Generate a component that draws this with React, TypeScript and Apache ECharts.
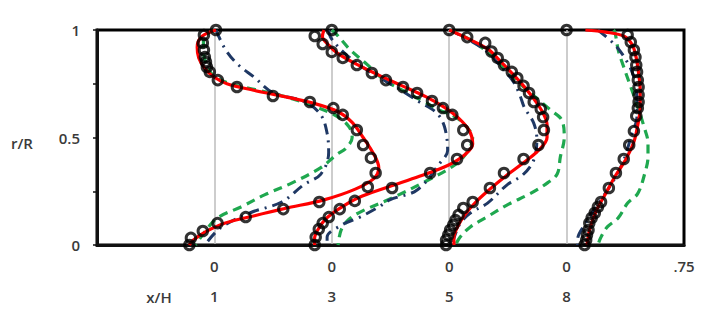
import { useEffect, useRef } from "react";
import * as echarts from "echarts";

// Stations (x/H) and their zero offsets on the shared horizontal axis
const stationLabels = ["1", "3", "5", "8"];
const stationOffsets = [0.75, 1.5, 2.25, 3.0];
const xTickLabels = ["", "0", "0", "0", "0", ".75"];
const yTickLabels: Record<string, string> = { "0": "0", "0.5": "0.5", "1": "1" };

// Each pair: [r/R, u] with u the profile value at that station
const exp1 = [[1.0,0.01],[0.977,-0.067],[0.94,-0.074],[0.907,-0.067],[0.874,-0.061],[0.851,-0.054],[0.828,-0.048],[0.805,-0.029],[0.767,0.022],[0.735,0.144],[0.693,0.374],[0.665,0.61],[0.637,0.76],[0.605,0.82],[0.535,0.91],[0.465,0.95],[0.405,1.0],[0.335,1.03],[0.27,0.98],[0.2,0.67],[0.167,0.44],[0.13,0.2],[0.102,0.02],[0.065,-0.074],[0.033,-0.15],[0.0,-0.16]];
const exp3 = [[1.0,0.0],[0.972,-0.109],[0.935,-0.058],[0.898,0.0],[0.87,0.07],[0.837,0.16],[0.8,0.256],[0.767,0.346],[0.735,0.455],[0.707,0.545],[0.67,0.64],[0.637,0.71],[0.605,0.77],[0.535,0.84],[0.465,0.865],[0.4,0.8],[0.335,0.628],[0.265,0.385],[0.205,0.147],[0.167,0.051],[0.13,-0.019],[0.102,-0.058],[0.074,-0.083],[0.037,-0.103],[0.0,-0.109]];
const exp5 = [[1.0,0.0],[0.967,0.115],[0.94,0.23],[0.9,0.27],[0.87,0.31],[0.837,0.35],[0.805,0.4],[0.777,0.435],[0.74,0.475],[0.707,0.51],[0.665,0.54],[0.633,0.585],[0.595,0.6],[0.535,0.605],[0.465,0.57],[0.4,0.475],[0.335,0.35],[0.265,0.26],[0.2,0.15],[0.172,0.09],[0.14,0.06],[0.116,0.04],[0.093,0.026],[0.07,0.006],[0.047,-0.006],[0.023,-0.02],[0.0,-0.02]];
const exp8 = [[1.0,0.0],[0.977,0.39],[0.944,0.41],[0.907,0.43],[0.874,0.44],[0.837,0.445],[0.805,0.45],[0.767,0.455],[0.735,0.46],[0.698,0.46],[0.665,0.46],[0.637,0.455],[0.6,0.445],[0.53,0.43],[0.465,0.4],[0.4,0.365],[0.335,0.315],[0.265,0.27],[0.2,0.22],[0.177,0.2],[0.149,0.18],[0.126,0.16],[0.102,0.145],[0.07,0.14],[0.047,0.13],[0.023,0.125],[0.0,0.115]];

const red1 = [[1.0,0.01],[0.97,-0.08],[0.92,-0.11],[0.87,-0.1],[0.82,-0.06],[0.78,0.0],[0.75,0.08],[0.72,0.25],[0.69,0.45],[0.66,0.63],[0.62,0.79],[0.57,0.88],[0.5,0.95],[0.42,1.02],[0.36,1.05],[0.31,1.02],[0.26,0.9],[0.21,0.7],[0.17,0.45],[0.13,0.22],[0.1,0.06],[0.06,-0.06],[0.02,-0.14],[0.0,-0.16]];
const red3 = [[1.0,-0.05],[0.97,-0.06],[0.93,-0.02],[0.89,0.04],[0.84,0.16],[0.79,0.3],[0.74,0.45],[0.69,0.6],[0.64,0.72],[0.59,0.81],[0.53,0.88],[0.47,0.9],[0.42,0.85],[0.37,0.74],[0.32,0.56],[0.27,0.36],[0.22,0.17],[0.17,0.05],[0.12,-0.04],[0.07,-0.09],[0.03,-0.11],[0.0,-0.11]];
const red5 = [[1.0,0.0],[0.96,0.12],[0.91,0.25],[0.86,0.32],[0.8,0.4],[0.74,0.475],[0.68,0.54],[0.62,0.595],[0.56,0.625],[0.5,0.625],[0.44,0.57],[0.38,0.47],[0.32,0.36],[0.26,0.26],[0.2,0.17],[0.14,0.1],[0.08,0.05],[0.03,0.03],[0.0,0.03]];
const red8 = [[1.0,0.12],[0.99,0.25],[0.97,0.37],[0.93,0.42],[0.87,0.445],[0.8,0.46],[0.72,0.47],[0.64,0.47],[0.56,0.455],[0.48,0.43],[0.4,0.38],[0.32,0.31],[0.24,0.25],[0.16,0.19],[0.08,0.15],[0.0,0.13]];

const green1 = [[1.0,0.0],[0.96,-0.07],[0.9,-0.07],[0.84,-0.05],[0.79,-0.01],[0.75,0.1],[0.72,0.28],[0.69,0.45],[0.65,0.62],[0.6,0.78],[0.55,0.86],[0.5,0.88],[0.45,0.84],[0.42,0.78],[0.36,0.68],[0.29,0.5],[0.233,0.32],[0.177,0.17],[0.126,0.02],[0.056,-0.067],[0.0,-0.12]];
const green3 = [[1.0,0.0],[0.98,0.03],[0.91,0.115],[0.84,0.225],[0.77,0.33],[0.72,0.45],[0.67,0.58],[0.63,0.68],[0.595,0.79],[0.55,0.86],[0.5,0.9],[0.45,0.88],[0.38,0.8],[0.3,0.61],[0.22,0.39],[0.16,0.2],[0.12,0.11],[0.07,0.06],[0.0,0.04]];
const green5 = [[1.0,0.0],[0.986,0.05],[0.94,0.167],[0.874,0.28],[0.79,0.39],[0.707,0.52],[0.628,0.647],[0.58,0.72],[0.5,0.735],[0.41,0.71],[0.33,0.69],[0.29,0.63],[0.24,0.52],[0.19,0.38],[0.13,0.24],[0.084,0.135],[0.037,0.07],[0.0,0.04]];
const green8 = [[1.0,0.3],[0.986,0.31],[0.907,0.33],[0.828,0.365],[0.735,0.41],[0.642,0.455],[0.549,0.495],[0.474,0.52],[0.409,0.52],[0.335,0.5],[0.24,0.455],[0.195,0.39],[0.126,0.33],[0.084,0.26],[0.037,0.22],[0.0,0.2]];

const navy1 = [[1.0,0.01],[0.91,0.07],[0.84,0.15],[0.78,0.255],[0.71,0.37],[0.665,0.58],[0.605,0.68],[0.52,0.72],[0.43,0.73],[0.33,0.68],[0.28,0.57],[0.2,0.43],[0.15,0.23],[0.08,0.04],[0.01,-0.05]];
const navy3 = [[1.0,-0.02],[0.97,-0.01],[0.93,0.03],[0.88,0.1],[0.83,0.19],[0.78,0.3],[0.73,0.42],[0.665,0.56],[0.614,0.67],[0.55,0.72],[0.44,0.74],[0.38,0.69],[0.256,0.545],[0.21,0.37],[0.177,0.3],[0.13,0.18],[0.093,0.064],[0.037,-0.03],[0.0,-0.03]];
const navy5 = [[1.0,0.0],[0.96,0.11],[0.9,0.24],[0.83,0.33],[0.76,0.41],[0.7,0.45],[0.64,0.48],[0.567,0.54],[0.49,0.56],[0.395,0.54],[0.326,0.47],[0.28,0.37],[0.195,0.245],[0.149,0.135],[0.1,0.07],[0.023,0.026],[0.0,0.02]];
const navy8 = [[1.0,0.2],[0.93,0.31],[0.86,0.38],[0.78,0.43],[0.66,0.45],[0.6,0.45],[0.5,0.41],[0.395,0.365],[0.3,0.3],[0.2,0.21],[0.1,0.12],[0.023,0.07],[0.0,0.07]];

const expSets = [exp1, exp3, exp5, exp8];
const redSets = [red1, red3, red5, red8];
const greenSets = [green1, green3, green5, green8];
const navySets = [navy1, navy3, navy5, navy8];

const TXT = "#3a3a3a";
const FONT = "Open Sans";
const FS = 15;

function toXY(set: number[][], i: number) {
  return set.map(([r, u]) => [stationOffsets[i] + u, r]);
}

export default function App() {
  const ref = useRef<HTMLDivElement>(null);
  useEffect(() => {
    if (!ref.current) return;
    const chart = echarts.init(ref.current, undefined, { renderer: "svg" });
    const series: any[] = [];
    greenSets.forEach((s, i) =>
      series.push({
        type: "line", data: toXY(s, i), smooth: 0.35, symbol: "none", z: 3,
        lineStyle: { color: "#1fa84f", width: 3.2, type: [9, 6] },
      })
    );
    navySets.forEach((s, i) =>
      series.push({
        type: "line", data: toXY(s, i), smooth: 0.35, symbol: "none", z: 4,
        lineStyle: { color: "#1f3864", width: 3, type: [11, 6, 2, 6] },
      })
    );
    redSets.forEach((s, i) =>
      series.push({
        type: "line", data: toXY(s, i), smooth: 0.35, symbol: "none", z: 5,
        lineStyle: { color: "#ff0000", width: 3.2 },
      })
    );
    expSets.forEach((s, i) =>
      series.push({
        type: "scatter", data: toXY(s, i), symbol: "circle", symbolSize: 9.5, z: 6,
        itemStyle: { color: "rgba(255,255,255,0)", borderColor: "#000", borderWidth: 3 },
      })
    );
    chart.setOption({
      animation: false,
      grid: { left: 97, right: 39, top: 30, bottom: 78, show: true, borderColor: "#000", borderWidth: 3 },
      xAxis: {
        type: "value", min: 0, max: 3.75, interval: 0.75,
        axisLine: { show: true, lineStyle: { color: "#111", width: 3 } },
        axisTick: { show: false },
        splitLine: { show: true, showMinLine: false, showMaxLine: false, lineStyle: { color: "#bdbdbd", width: 1.5 } },
        axisLabel: {
          margin: 6,
          showMaxLabel: true,
          formatter: (v: number) => {
            const idx = Math.round(v / 0.75);
            const top = xTickLabels[idx] ?? "";
            const bottom = idx >= 1 && idx <= 4 ? stationLabels[idx - 1] : " ";
            if (!top) return "";
            return `{a|${top}}\n{b|${bottom}}`;
          },
          rich: {
            a: { fontSize: FS, lineHeight: 30, color: TXT, fontFamily: FONT, fontWeight: 600 },
            b: { fontSize: FS, lineHeight: 30, color: TXT, fontFamily: FONT, fontWeight: 600 },
          },
        },
      },
      yAxis: {
        type: "value", min: 0, max: 1, interval: 0.25,
        axisLine: { show: true, lineStyle: { color: "#111", width: 3 } },
        axisTick: { show: true, length: 4, lineStyle: { color: "#111", width: 1.5 } },
        splitLine: { show: false },
        axisLabel: {
          margin: 17, fontSize: FS, color: TXT, fontFamily: FONT, fontWeight: 600,
          formatter: (v: number) => yTickLabels[String(v)] ?? "",
        },
      },
      graphic: [
        { type: "text", x: 22, y: 143, style: { text: "r/R", fontSize: FS, fill: TXT, fontFamily: FONT, fontWeight: 600, align: "center", verticalAlign: "middle" } },
        { type: "text", x: 159, y: 297, style: { text: "x/H", fontSize: FS, fill: TXT, fontFamily: FONT, fontWeight: 600, align: "center", verticalAlign: "middle" } },
      ],
      series,
    });
    return () => chart.dispose();
  }, []);
  return <div ref={ref} style={{ width: 723, height: 323, marginLeft: -8, marginTop: -8 }} />;
}
